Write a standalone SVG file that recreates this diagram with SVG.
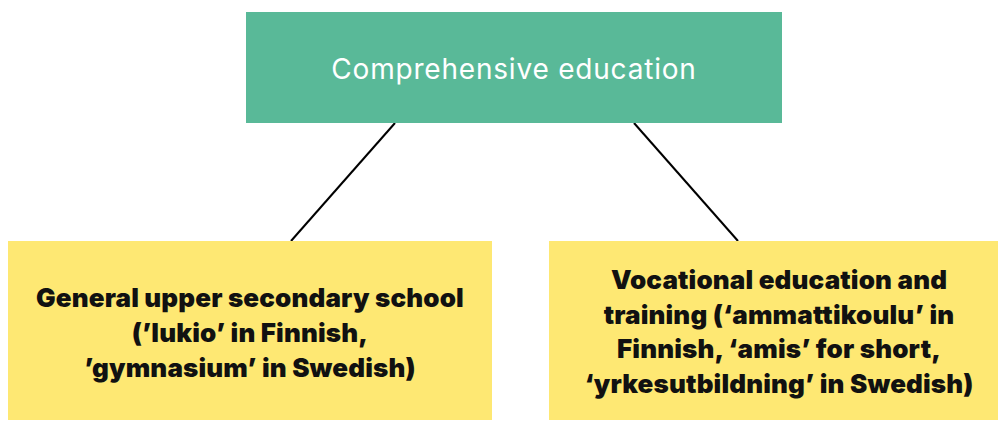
<svg xmlns="http://www.w3.org/2000/svg" width="1000" height="422" viewBox="0 0 1000 422">
<style>
.top{fill:#59b998}
.leaf{fill:#fee873}
.t1{font-family:Inter,"Liberation Sans",sans-serif;font-size:28px;letter-spacing:0.8px;fill:#ffffff;text-anchor:middle}
.t2{font-family:Inter,"Liberation Sans",sans-serif;font-size:26px;font-weight:900;letter-spacing:0.15px;fill:#111111;text-anchor:middle}
.conn{stroke:#000000;stroke-width:2;fill:none}
</style>
<rect width="1000" height="422" fill="#ffffff"/>
<g id="connectors">
<line class="conn" x1="395" y1="123" x2="291" y2="241"/>
<line class="conn" x1="634" y1="123" x2="738" y2="241"/>
</g>
<g id="node-comprehensive">
<rect class="top" x="246" y="12" width="536" height="111"/>
<text class="t1" x="514" y="79">Comprehensive education</text>
</g>
<g id="node-general">
<rect class="leaf" x="8" y="241" width="484" height="179"/>
<text class="t2" x="250" y="307">General upper secondary school</text>
<text class="t2" x="250" y="342">(’lukio’ in Finnish,</text>
<text class="t2" x="250" y="377">’gymnasium’ in Swedish)</text>
</g>
<g id="node-vocational">
<rect class="leaf" x="549" y="241" width="449" height="179"/>
<text class="t2" x="779" y="289">Vocational education and</text>
<text class="t2" x="779" y="323.5">training (‘ammattikoulu’ in</text>
<text class="t2" x="779" y="358">Finnish, ‘amis’ for short,</text>
<text class="t2" x="779" y="392.5">‘yrkesutbildning’ in Swedish)</text>
</g>
</svg>
